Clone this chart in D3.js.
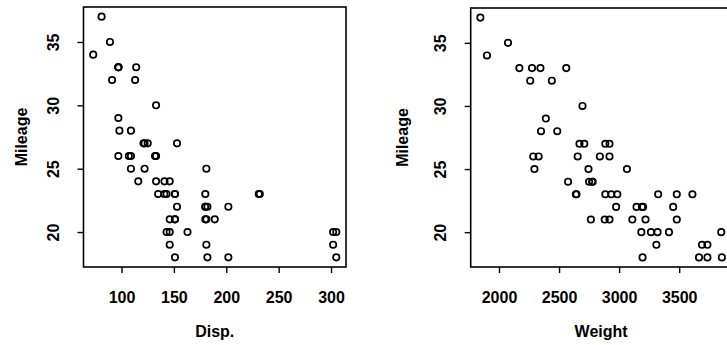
<!DOCTYPE html>
<html>
<head>
<meta charset="utf-8">
<script src="https://cdn.jsdelivr.net/npm/d3@7/dist/d3.min.js"></script>
<style>
  html, body { margin: 0; padding: 0; background: #fff; }
  svg { display: block; }
  text { font-family: "Liberation Sans", Arial, Helvetica, sans-serif; font-weight: bold; fill: #000; }
</style>
</head>
<body>
<svg id="chart" width="727" height="345"></svg>
<script>
// Car test data: engine displacement, curb weight and fuel mileage for 60 cars.
const disp = [97, 114, 81, 91, 113, 97, 97, 98, 109, 73, 97, 89, 109,
  305, 153, 302, 133, 97, 125, 146, 107, 109,
  121, 151, 133, 181, 141, 132, 133, 122, 181, 146, 151, 116, 135, 122, 141,
  163, 151, 153, 202, 180, 182, 232, 143, 180, 180, 151, 189, 180,
  231, 305, 302,
  151, 202, 182, 181, 143, 146, 146];
const weight = [2560, 2345, 1845, 2260, 2440, 2285, 2275, 2350, 2295, 1900, 2390, 2075, 2330,
  3320, 2885, 3310, 2695, 2170, 2710, 2775, 2840, 2485,
  2670, 2640, 2655, 3065, 2750, 2920, 2780, 2745, 3110, 2920, 2645, 2575, 2935, 2920, 2985,
  3265, 2880, 2975, 3450, 3145, 3190, 3610, 2885, 3480, 3200, 2765, 3220, 3480,
  3325, 3855, 3850,
  3195, 3735, 3665, 3735, 3415, 3185, 3690];
const mileage = [33, 33, 37, 32, 32, 26, 33, 28, 25, 34, 29, 35, 26,
  20, 27, 19, 30, 33, 27, 24, 26, 28,
  27, 23, 26, 25, 24, 26, 24, 25, 21, 21, 23, 24, 23, 27, 23,
  20, 21, 22, 22, 22, 22, 23, 23, 21, 22, 21, 21, 23,
  23, 18, 20,
  18, 18, 18, 19, 20, 20, 19];

// Tick positions
const mileageTicks = [20, 25, 30, 35];
const dispTicks = [100, 150, 200, 250, 300];
const weightTicks = [2000, 2500, 3000, 3500];

const svg = d3.select("#chart");

// Extend a data range by 4% on each side
function padded(values) {
  const [lo, hi] = d3.extent(values);
  const pad = (hi - lo) * 0.04;
  return [lo - pad, hi + pad];
}

const panels = [
  { xs: disp, ticks: dispTicks, label: "Disp.", left: 83.5, right: 346, top: 7, bottom: 267, titleX: 26.5 },
  { xs: weight, ticks: weightTicks, label: "Weight", left: 470.7, right: 731.5, top: 8, bottom: 267, titleX: 408 }
];

const yDomain = padded(mileage);

panels.forEach(p => {
  const x = d3.scaleLinear().domain(padded(p.xs)).range([p.left, p.right]);
  const y = d3.scaleLinear().domain(yDomain).range([p.bottom, p.top]);
  const g = svg.append("g");

  // plot frame
  g.append("rect")
    .attr("x", p.left).attr("y", p.top)
    .attr("width", p.right - p.left).attr("height", p.bottom - p.top)
    .attr("fill", "none").attr("stroke", "#000").attr("stroke-width", 1.6);

  // x axis
  const xa = g.append("g")
    .attr("transform", `translate(0,${p.bottom})`)
    .call(d3.axisBottom(x).tickValues(p.ticks).tickSize(6).tickSizeOuter(0).tickPadding(19)
      .tickFormat(d3.format("d")));
  xa.select(".domain").remove();
  xa.selectAll(".tick line").attr("stroke", "#000").attr("stroke-width", 1.4);
  xa.selectAll(".tick text").attr("font-size", 16).attr("fill", "#000")
    .style("font-family", "'Liberation Sans', Arial, sans-serif").style("font-weight", "bold");

  // y axis with labels turned parallel to the axis
  const ya = g.append("g")
    .attr("transform", `translate(${p.left},0)`)
    .call(d3.axisLeft(y).tickValues(mileageTicks).tickSize(6).tickSizeOuter(0));
  ya.select(".domain").remove();
  ya.selectAll(".tick line").attr("stroke", "#000").attr("stroke-width", 1.4);
  ya.selectAll(".tick text")
    .attr("x", null).attr("dy", null)
    .attr("text-anchor", "middle")
    .attr("font-size", 16).attr("fill", "#000")
    .style("font-family", "'Liberation Sans', Arial, sans-serif").style("font-weight", "bold")
    .attr("transform", "translate(-24.5,0) rotate(-90)");

  // points
  g.append("g").selectAll("circle")
    .data(mileage.map((m, i) => [p.xs[i], m]))
    .join("circle")
    .attr("cx", d => x(d[0]))
    .attr("cy", d => y(d[1]))
    .attr("r", 3.2)
    .attr("fill", "none")
    .attr("stroke", "#000")
    .attr("stroke-width", 1.7);

  // axis titles
  g.append("text")
    .attr("x", (p.left + p.right) / 2)
    .attr("y", 337)
    .attr("text-anchor", "middle")
    .attr("font-size", 16)
    .text(p.label);

  g.append("text")
    .attr("transform", `translate(${p.titleX},${(p.top + p.bottom) / 2}) rotate(-90)`)
    .attr("text-anchor", "middle")
    .attr("font-size", 16)
    .text("Mileage");
});
</script>
</body>
</html>
